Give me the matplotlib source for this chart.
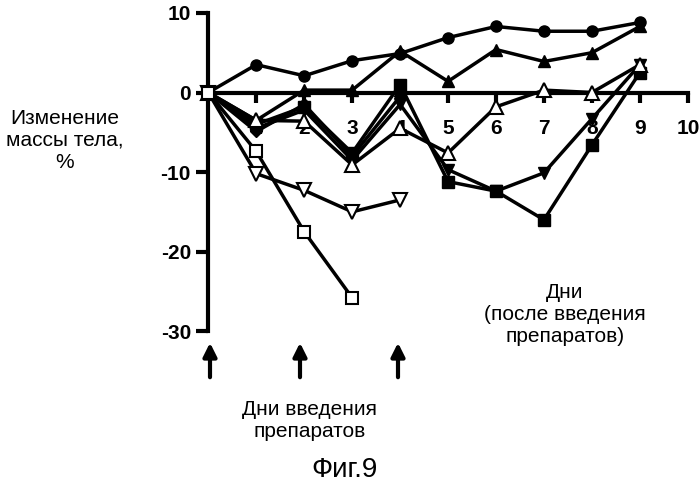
import matplotlib.pyplot as plt

plt.rcParams['font.family'] = 'Liberation Sans'
plt.rcParams['axes.unicode_minus'] = False

days = [0, 1, 2, 3, 4, 5, 6, 7, 8, 9]
circle_filled = [0, 3.5, 2.1, 4.0, 4.9, 6.9, 8.3, 7.7, 7.7, 8.8]
tri_up_filled = [0, -3.5, 0.3, 0.3, 5.2, 1.4, 5.4, 3.9, 5.0, 8.3]
tri_up_open = [0, -3.5, -3.6, -9.1, -4.5, -7.6, -1.8, 0.3, 0.0, 3.5]
square_filled = [0, -4.0, -1.8, -7.6, 1.0, -11.2, -12.4, -16.0, -6.6, 2.5]
tri_down_filled = [0, -4.5, -2.2, -8.5, -1.5, -9.7, -12.4, -10.1, -3.3, 3.5]
days_short = [0, 1, 2, 3, 4]
diamond_filled = [0, -4.9, -1.5, -8.0, -0.5]
tri_down_open = [0, -10.2, -12.3, -15.0, -13.5]
days_sq = [0, 1, 2, 3]
square_open = [0, -7.4, -17.5, -25.8]

fig = plt.figure(figsize=(6.99, 4.98), dpi=100)
ax = fig.add_axes([0.298, 0.335, 0.686, 0.639])

lw = 2.5
ax.plot(days, circle_filled, 'k-o', lw=lw, ms=8, clip_on=False, zorder=5)
ax.plot(days, tri_up_filled, 'k-^', lw=lw, ms=9, clip_on=False, zorder=5)
ax.plot(days, square_filled, 'k-s', lw=lw, ms=8, clip_on=False, zorder=5)
ax.plot(days, tri_down_filled, 'k-v', lw=lw, ms=9, clip_on=False, zorder=5)
ax.plot(days_short, diamond_filled, 'k-D', lw=lw, ms=6, clip_on=False, zorder=5)
ax.plot(days, tri_up_open, 'k-^', lw=lw, ms=10, mfc='white', mew=1.5, clip_on=False, zorder=6)
ax.plot(days_short, tri_down_open, 'k-v', lw=lw, ms=10, mfc='white', mew=1.5, clip_on=False, zorder=6)
ax.plot(days_sq, square_open, 'k-s', lw=lw, ms=9, mfc='white', mew=1.5, clip_on=False, zorder=6)

ax.set_xlim(0, 10)
ax.set_ylim(-30, 10)
for s in ['top', 'right']:
    ax.spines[s].set_visible(False)
ax.spines['bottom'].set_position(('data', 0))
ax.spines['bottom'].set_linewidth(3)
ax.spines['left'].set_linewidth(3)
ax.set_xticks(range(1, 11))
ax.set_yticks([-30, -20, -10, 0, 10])
ax.tick_params(axis='x', direction='out', length=7, width=3, labelsize=15, pad=12)
ax.tick_params(axis='y', direction='out', length=9, width=3, labelsize=15)
for lab in ax.get_xticklabels() + ax.get_yticklabels():
    lab.set_fontweight('bold')

fig.text(65 / 699, 1 - 140 / 498, 'Изменение\nмассы тела,\n%', ha='center', va='center', fontsize=15)
fig.text(565 / 699, 1 - 315 / 498, 'Дни\n(после введения\nпрепаратов)', ha='center', va='center', fontsize=15)
fig.text(310 / 699, 1 - 420 / 498, 'Дни введения\nпрепаратов', ha='center', va='center', fontsize=15)
fig.text(345 / 699, 1 - 470 / 498, 'Фиг.9', ha='center', va='center', fontsize=20)

for xp in [210, 300, 398]:
    fig.add_artist(plt.Annotation('', xy=(xp / 699, 1 - 340 / 498), xytext=(xp / 699, 1 - 380 / 498),
                                  xycoords='figure fraction', textcoords='figure fraction',
                                  arrowprops=dict(arrowstyle='-|>', color='k', lw=3, mutation_scale=20)))

fig.savefig('out.png', dpi=100)
